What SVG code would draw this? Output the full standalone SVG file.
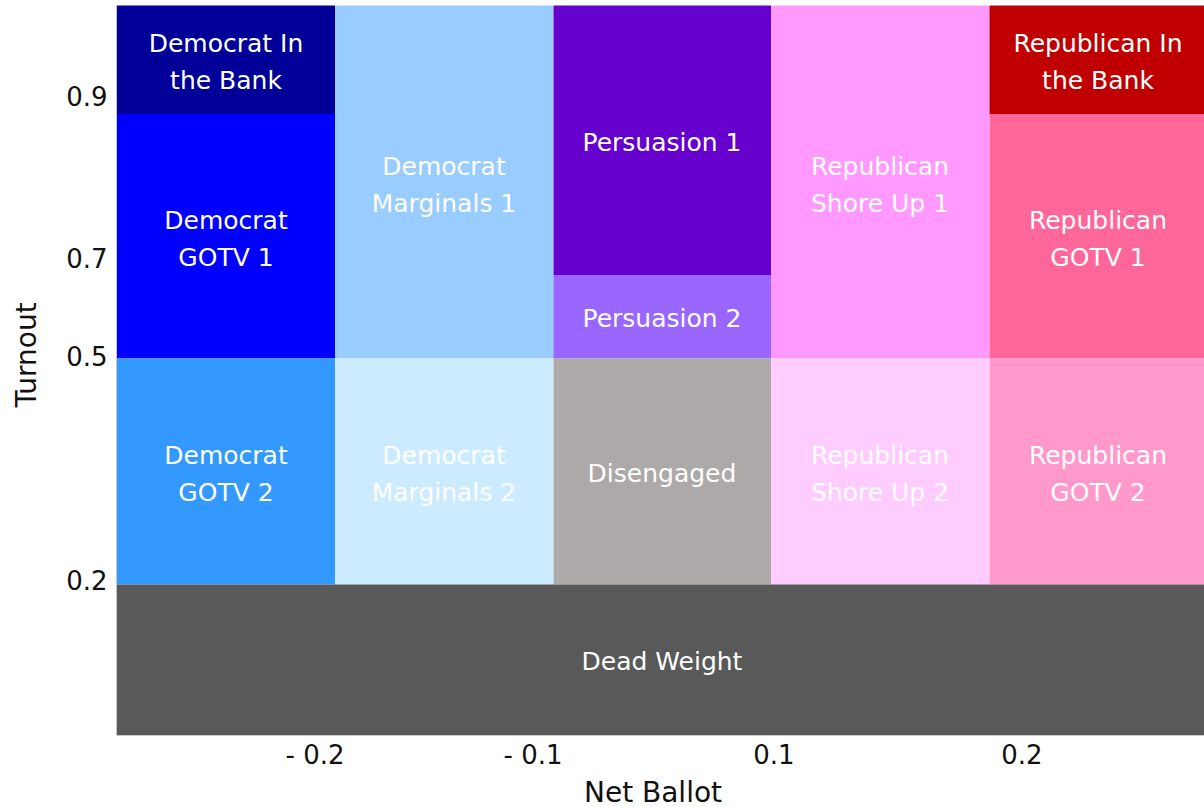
<svg xmlns="http://www.w3.org/2000/svg" width="1204" height="807" viewBox="0 0 1204 807">
<style>
.lbl{font-family:"DejaVu Sans",sans-serif;font-size:25px;fill:#ffffff;text-anchor:middle}
.tick{font-family:"DejaVu Sans",sans-serif;font-size:26px;fill:#111111}
.title{font-family:"DejaVu Sans",sans-serif;font-size:28px;fill:#111111;text-anchor:middle}
</style>
<rect width="1204" height="807" fill="#ffffff"/>
<g id="dem-bank"><rect x="116.5" y="5.5" width="218.5" height="108.5" fill="#000099"/><text class="lbl" x="226" y="52.3">Democrat In</text><text class="lbl" x="226" y="89.3">the Bank</text></g>
<g id="dem-gotv1"><rect x="116.5" y="114" width="218.5" height="244.5" fill="#0000FF"/><text class="lbl" x="226" y="228.7">Democrat</text><text class="lbl" x="226" y="265.7">GOTV 1</text></g>
<g id="dem-gotv2"><rect x="116.5" y="358.5" width="218.5" height="226" fill="#3399FF"/><text class="lbl" x="226" y="464">Democrat</text><text class="lbl" x="226" y="501">GOTV 2</text></g>
<g id="dem-marg1"><rect x="335" y="5.5" width="218.5" height="353" fill="#99CCFF"/><text class="lbl" x="444" y="174.5">Democrat</text><text class="lbl" x="444" y="211.5">Marginals 1</text></g>
<g id="dem-marg2"><rect x="335" y="358.5" width="218.5" height="226" fill="#CCEBFF"/><text class="lbl" x="444" y="464">Democrat</text><text class="lbl" x="444" y="501">Marginals 2</text></g>
<g id="pers1"><rect x="553.5" y="5.5" width="217.5" height="269.5" fill="#6600CC"/><text class="lbl" x="662" y="151">Persuasion 1</text></g>
<g id="pers2"><rect x="553.5" y="275" width="217.5" height="83.5" fill="#9966FF"/><text class="lbl" x="662" y="327.3">Persuasion 2</text></g>
<g id="disengaged"><rect x="553.5" y="358.5" width="217.5" height="226" fill="#ADA9A8"/><text class="lbl" x="662" y="482">Disengaged</text></g>
<g id="rep-shore1"><rect x="771" y="5.5" width="218.5" height="353" fill="#FF99FF"/><text class="lbl" x="880" y="174.5">Republican</text><text class="lbl" x="880" y="211.5">Shore Up 1</text></g>
<g id="rep-shore2"><rect x="771" y="358.5" width="218.5" height="226" fill="#FFCCFF"/><text class="lbl" x="880" y="464">Republican</text><text class="lbl" x="880" y="501">Shore Up 2</text></g>
<g id="rep-bank"><rect x="989.5" y="5.5" width="214.5" height="108.5" fill="#C00000"/><text class="lbl" x="1098" y="52.3">Republican In</text><text class="lbl" x="1098" y="89.3">the Bank</text></g>
<g id="rep-gotv1"><rect x="989.5" y="114" width="214.5" height="244.5" fill="#FF6699"/><text class="lbl" x="1098" y="228.7">Republican</text><text class="lbl" x="1098" y="265.7">GOTV 1</text></g>
<g id="rep-gotv2"><rect x="989.5" y="358.5" width="214.5" height="226" fill="#FF99CC"/><text class="lbl" x="1098" y="464">Republican</text><text class="lbl" x="1098" y="501">GOTV 2</text></g>
<g id="dead-weight"><rect x="116.5" y="584.5" width="1087.5" height="150.5" fill="#595959"/><text class="lbl" x="662" y="670">Dead Weight</text></g>
<g id="connectors"><path d="M116.5 5 V735.5 H1204" fill="none" stroke="#C8C8C8" stroke-width="1"/></g>
<g id="axes">
<g text-anchor="end"><text class="tick" x="107.5" y="106">0.9</text><text class="tick" x="107.5" y="268">0.7</text><text class="tick" x="107.5" y="366">0.5</text><text class="tick" x="107.5" y="590">0.2</text></g>
<g text-anchor="middle"><text class="tick" x="315" y="763.5">- 0.2</text><text class="tick" x="533" y="763.5">- 0.1</text><text class="tick" x="774" y="763.5">0.1</text><text class="tick" x="1022" y="763.5">0.2</text></g>
<text class="title" x="653" y="801.5">Net Ballot</text>
<text class="title" transform="translate(36 355) rotate(-90)">Turnout</text>
</g>
</svg>
